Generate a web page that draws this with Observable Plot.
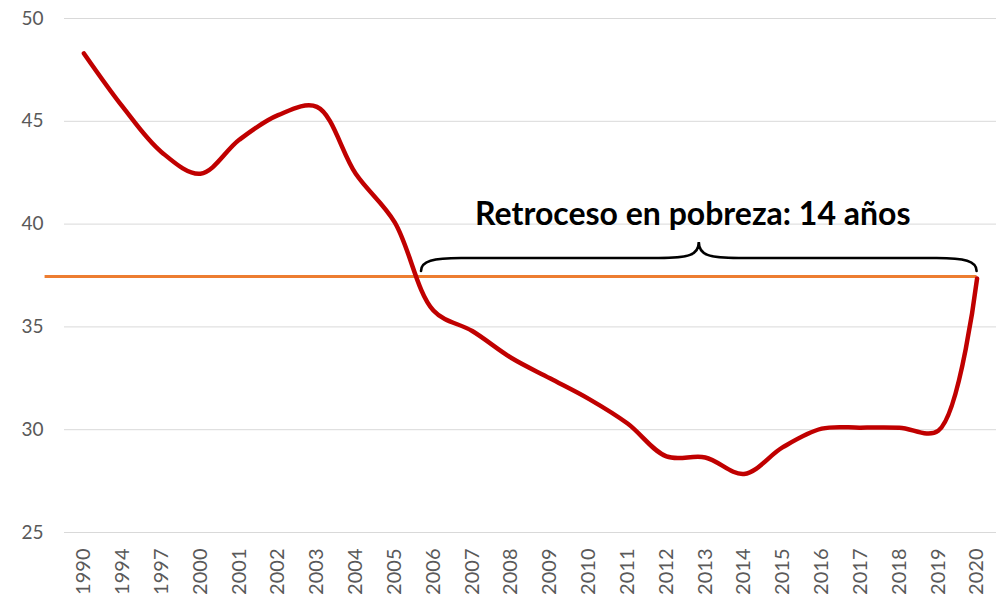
<!DOCTYPE html>
<html>
<head>
<meta charset="utf-8">
<script src="https://cdn.jsdelivr.net/npm/d3@7"></script>
<script src="https://cdn.jsdelivr.net/npm/@observablehq/plot@0.6"></script>
<style>
  html, body { margin: 0; padding: 0; background: #fff; }
  #chart { width: 996px; height: 602px; }
</style>
</head>
<body>
<div id="chart"></div>
<script>
// ---- data ----
const years = ["1990","1994","1997","2000","2001","2002","2003","2004","2005","2006","2007","2008","2009","2010","2011","2012","2013","2014","2015","2016","2017","2018","2019","2020"];
const poverty = [48.3, 45.7, 43.5, 42.45, 44.1, 45.3, 45.7, 42.45, 40.1, 35.8, 34.8, 33.5, 32.5, 31.5, 30.3, 28.7, 28.65, 27.85, 29.15, 30.05, 30.1, 30.1, 29.95, 37.35];
const level2006 = 37.45;            // reference level (orange line)
const yTicks = [25, 30, 35, 40, 45, 50];
const annotation = "Retroceso en pobreza: 14 años";

// ---- derived ----
const series = poverty.map((v, i) => ({i, v}));
// index where the series first falls below the reference level (linear crossing)
let cross = 0;
for (let k = 0; k < poverty.length - 1; k++) {
  if (poverty[k] >= level2006 && poverty[k + 1] < level2006) {
    cross = k + (poverty[k] - level2006) / (poverty[k] - poverty[k + 1]);
    break;
  }
}
const braceEnd = poverty.length - 1;

function braceMark(index, scales) {
  const x0 = scales.x(cross) + 3;
  const x1 = scales.x(braceEnd);
  const yb = scales.y(level2006) - 5;
  const ym = yb - 13;
  const yt = yb - 29;
  const xc = (x0 + x1) / 2;
  const d = `M${x0},${yb} C${x0},${yb - 10} ${x0 + 12},${ym} ${x0 + 40},${ym}
    L${xc - 40},${ym} C${xc - 10},${ym} ${xc},${ym - 3} ${xc},${yt}
    C${xc},${ym - 3} ${xc + 10},${ym} ${xc + 40},${ym}
    L${x1 - 40},${ym} C${x1 - 12},${ym} ${x1},${yb - 10} ${x1},${yb}`;
  const g = d3.create("svg:path")
    .attr("d", d)
    .attr("fill", "none")
    .attr("stroke", "#000")
    .attr("stroke-width", 2.6)
    .attr("stroke-linecap", "round");
  return g.node();
}

const chart = Plot.plot({
  width: 996,
  height: 602,
  marginLeft: 64,
  marginRight: 0,
  marginTop: 18,
  marginBottom: 70,
  style: { fontFamily: "Lato, 'Open Sans', sans-serif", background: "#fff" },
  x: { type: "linear", domain: [-0.5, years.length - 0.5], axis: null },
  y: { domain: [25, 50], axis: null },
  marks: [
    Plot.gridY(yTicks, { stroke: "#d9d9d9", strokeOpacity: 1, strokeWidth: 1 }),
    Plot.axisY(yTicks, { tickSize: 0, tickPadding: 21, fontSize: 19, fill: "#595959", label: null }),
    Plot.axisX(d3.range(years.length), {
      tickSize: 0, tickRotate: -90, tickPadding: 16, fontSize: 20, fill: "#595959", label: null,
      tickFormat: i => years[i]
    }),
    Plot.ruleY([level2006], { x1: -1, x2: braceEnd, stroke: "#ED7D31", strokeWidth: 3 }),
    Plot.line(series, { x: "i", y: "v", curve: "catmull-rom", stroke: "#C00000", strokeWidth: 4.5, strokeLinecap: "round" }),
    braceMark,
    Plot.text([annotation], {
      x: (cross + braceEnd) / 2, y: level2006, dy: -62, dx: -5,
      text: d => d, fontSize: 32, fontWeight: "bold", fill: "#000", textAnchor: "middle"
    })
  ]
});
document.getElementById("chart").appendChild(chart);
</script>
</body>
</html>
